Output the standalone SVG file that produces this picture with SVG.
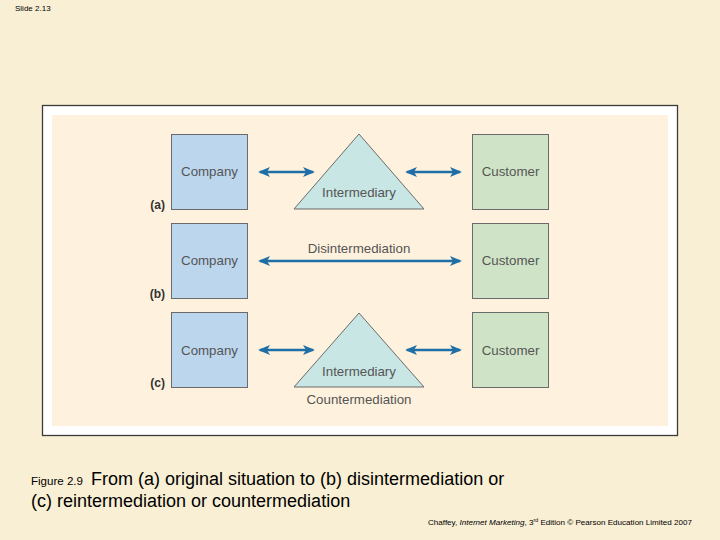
<svg xmlns="http://www.w3.org/2000/svg" width="720" height="540" viewBox="0 0 720 540">
<style>
.t{font-family:"Liberation Sans",Arial,sans-serif}
.lbl{font-family:"Liberation Sans",Arial,sans-serif;font-size:13.3px;fill:#555;text-anchor:middle}
.tag{font-family:"Liberation Sans",Arial,sans-serif;font-size:12px;font-weight:bold;fill:#333;text-anchor:end}
.co{fill:#bcd6ee;stroke:#6b6b6b;stroke-width:1}
.cu{fill:#cfe4c6;stroke:#6b6b6b;stroke-width:1}
.tri{fill:#c8e6e4;stroke:#6b6b6b;stroke-width:1}
.arr{stroke:#1f6ea6;stroke-width:2.5;fill:none;marker-start:url(#ah);marker-end:url(#ah)}
</style>
<defs>
<marker id="ah" viewBox="0 0 12 10" refX="10" refY="5" markerWidth="12" markerHeight="10" markerUnits="userSpaceOnUse" orient="auto-start-reverse">
<path d="M0,0 L12,5 L0,10 L3,5 z" fill="#1f6ea6"/>
</marker>
</defs>
<rect width="720" height="540" fill="#f9efd4"/>
<text class="t" x="15" y="11" font-size="8" fill="#000">Slide 2.13</text>
<rect x="42.5" y="105.5" width="635" height="330" fill="#ffffff" stroke="#3a3a3a" stroke-width="1.3"/>
<rect x="52" y="115" width="616" height="311" fill="#fef2de"/>

<g id="connectors">
<line class="arr" x1="260" y1="172" x2="313" y2="172"/>
<line class="arr" x1="407" y1="172" x2="460" y2="172"/>
<line class="arr" x1="260" y1="261" x2="460" y2="261"/>
<line class="arr" x1="260" y1="350" x2="313" y2="350"/>
<line class="arr" x1="407" y1="350" x2="460" y2="350"/>
</g>

<g id="company-a"><rect class="co" x="171.5" y="134.5" width="76" height="75"/><text class="lbl" x="209.5" y="176">Company</text></g>
<g id="intermediary-a"><polygon class="tri" points="359,134 294,209 424,209"/><text class="lbl" x="359" y="197">Intermediary</text></g>
<g id="customer-a"><rect class="cu" x="472.5" y="134.5" width="76" height="75"/><text class="lbl" x="510.5" y="176">Customer</text></g>
<text class="tag" x="165" y="209">(a)</text>

<g id="company-b"><rect class="co" x="171.5" y="223.5" width="76" height="75"/><text class="lbl" x="209.5" y="265">Company</text></g>
<g id="disintermediation"><text class="lbl" x="359" y="253">Disintermediation</text></g>
<g id="customer-b"><rect class="cu" x="472.5" y="223.5" width="76" height="75"/><text class="lbl" x="510.5" y="265">Customer</text></g>
<text class="tag" x="165" y="298">(b)</text>

<g id="company-c"><rect class="co" x="171.5" y="312.5" width="76" height="75"/><text class="lbl" x="209.5" y="355">Company</text></g>
<g id="intermediary-c"><polygon class="tri" points="359,313 294,387 424,387"/><text class="lbl" x="359" y="376">Intermediary</text></g>
<g id="customer-c"><rect class="cu" x="472.5" y="312.5" width="76" height="75"/><text class="lbl" x="510.5" y="355">Customer</text></g>
<text class="tag" x="165" y="387">(c)</text>
<text class="lbl" x="359" y="404">Countermediation</text>

<text class="t" x="31" y="485" font-size="11.5" fill="#000" textLength="52" lengthAdjust="spacingAndGlyphs">Figure 2.9</text>
<text class="t" x="91" y="485" font-size="18" fill="#000">From (a) original situation to (b) disintermediation or</text>
<text class="t" x="31" y="507" font-size="18" fill="#000">(c) reintermediation or countermediation</text>
<text class="t" x="428" y="525" font-size="7.5" fill="#000" textLength="264" lengthAdjust="spacingAndGlyphs">Chaffey, <tspan font-style="italic">Internet Marketing</tspan>, 3<tspan font-size="5" dy="-3">rd</tspan><tspan dy="3"> Edition © Pearson Education Limited 2007</tspan></text>
</svg>
